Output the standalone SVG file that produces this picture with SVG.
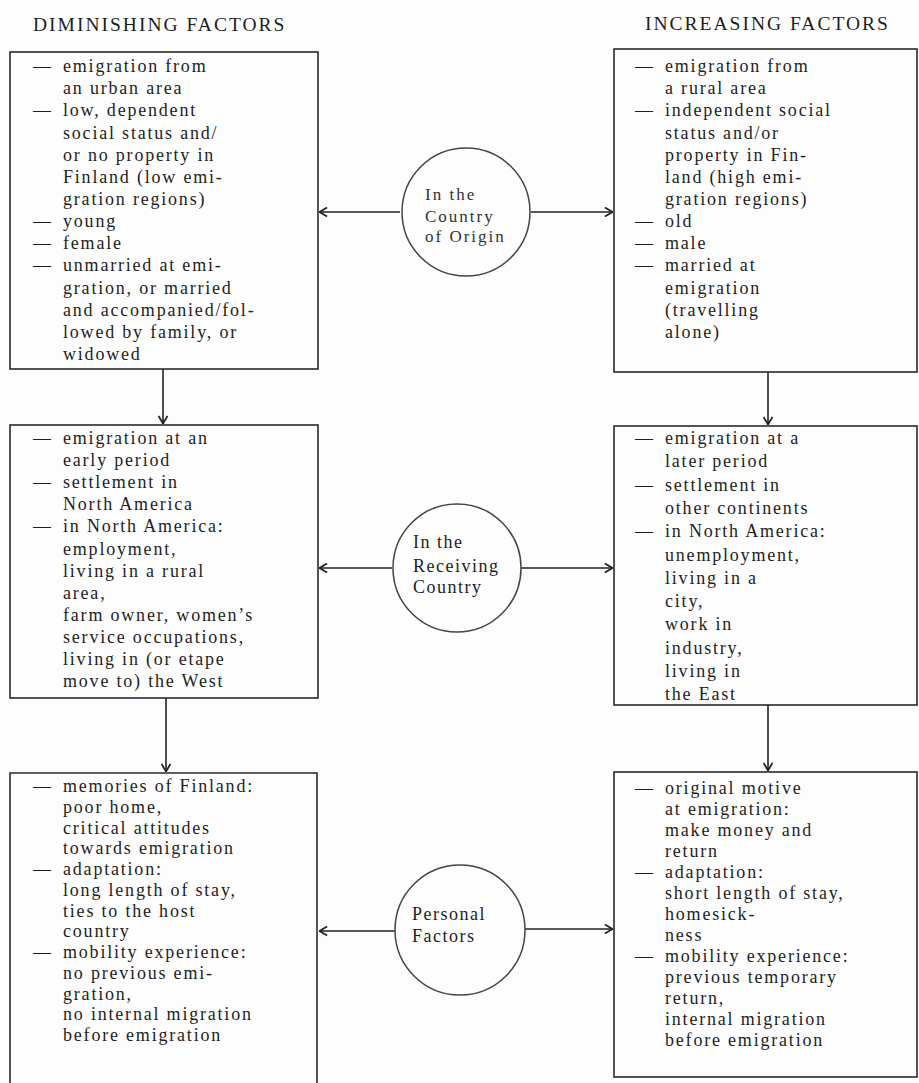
<svg xmlns="http://www.w3.org/2000/svg" width="919" height="1083" viewBox="0 0 919 1083">
<style>
.bg{fill:#fdfdfd}
.box{fill:none;stroke:#2a2a2a;stroke-width:1.6}
.circ{fill:none;stroke:#444;stroke-width:1.5}
.t{font-family:"Liberation Serif","Times New Roman",serif;font-size:18px;letter-spacing:1.8px;fill:#1e1e1e}
.h{font-family:"Liberation Serif","Times New Roman",serif;font-size:19.5px;letter-spacing:2px;fill:#1e1e1e}
.c1{font-family:"Liberation Serif","Times New Roman",serif;font-size:17px;letter-spacing:2px;fill:#333}
.c{font-family:"Liberation Serif","Times New Roman",serif;font-size:18px;letter-spacing:1.5px;fill:#1e1e1e}
.edge{fill:none;stroke:#222;stroke-width:1.6}
</style>
<defs>
<marker id="arr" viewBox="0 0 10 12" refX="10" refY="6" markerWidth="9" markerHeight="11" orient="auto" markerUnits="userSpaceOnUse">
<path d="M1,1 L9.5,6 L1,11" fill="none" stroke="#222" stroke-width="2"/>
</marker>
</defs>
<rect class="bg" x="0" y="0" width="919" height="1083"/>

<g id="headers">
<text class="h" x="33" y="31">DIMINISHING FACTORS</text>
<text class="h" x="645" y="30">INCREASING FACTORS</text>
</g>

<g id="connectors">
<path class="edge" d="M400,212 H319" marker-end="url(#arr)"/>
<path class="edge" d="M531,212 H613" marker-end="url(#arr)"/>
<path class="edge" d="M163,369 V424" marker-end="url(#arr)"/>
<path class="edge" d="M768,372 V425" marker-end="url(#arr)"/>
<path class="edge" d="M392,568 H319" marker-end="url(#arr)"/>
<path class="edge" d="M521,568 H613" marker-end="url(#arr)"/>
<path class="edge" d="M166,698 V772" marker-end="url(#arr)"/>
<path class="edge" d="M768,705 V771" marker-end="url(#arr)"/>
<path class="edge" d="M395,931 H319" marker-end="url(#arr)"/>
<path class="edge" d="M525,929 H613" marker-end="url(#arr)"/>
</g>

<g id="circle-origin">
<circle class="circ" cx="466" cy="212" r="64"/>
<text class="c1" x="425" y="200">In the</text>
<text class="c1" x="425" y="222">Country</text>
<text class="c1" x="425" y="242">of Origin</text>
</g>

<g id="circle-receiving">
<circle class="circ" cx="457" cy="568" r="64"/>
<text class="c" x="413" y="548">In the</text>
<text class="c" x="413" y="572">Receiving</text>
<text class="c" x="413" y="593">Country</text>
</g>

<g id="circle-personal">
<circle class="circ" cx="460" cy="930" r="65"/>
<text class="c" x="412" y="920">Personal</text>
<text class="c" x="412" y="942">Factors</text>
</g>

<g id="box-origin-diminishing">
<rect class="box" x="10" y="52" width="308" height="317"/>
<text class="t">
<tspan x="33" y="72">—</tspan><tspan x="63" y="72">emigration from</tspan>
<tspan x="63" y="94.2">an urban area</tspan>
<tspan x="33" y="116.3">—</tspan><tspan x="63" y="116.3">low, dependent</tspan>
<tspan x="63" y="138.5">social status and/</tspan>
<tspan x="63" y="160.6">or no property in</tspan>
<tspan x="63" y="182.8">Finland (low emi-</tspan>
<tspan x="63" y="204.9">gration regions)</tspan>
<tspan x="33" y="227">—</tspan><tspan x="63" y="227">young</tspan>
<tspan x="33" y="249.2">—</tspan><tspan x="63" y="249.2">female</tspan>
<tspan x="33" y="271.4">—</tspan><tspan x="63" y="271.4">unmarried at emi-</tspan>
<tspan x="63" y="293.5">gration, or married</tspan>
<tspan x="63" y="315.7">and accompanied/fol-</tspan>
<tspan x="63" y="337.8">lowed by family, or</tspan>
<tspan x="63" y="360">widowed</tspan>
</text>
</g>

<g id="box-origin-increasing">
<rect class="box" x="614" y="49" width="303" height="323"/>
<text class="t">
<tspan x="635" y="72">—</tspan><tspan x="665" y="72">emigration from</tspan>
<tspan x="665" y="94.2">a rural area</tspan>
<tspan x="635" y="116.3">—</tspan><tspan x="665" y="116.3">independent social</tspan>
<tspan x="665" y="138.5">status and/or</tspan>
<tspan x="665" y="160.6">property in Fin-</tspan>
<tspan x="665" y="182.8">land (high emi-</tspan>
<tspan x="665" y="204.9">gration regions)</tspan>
<tspan x="635" y="227">—</tspan><tspan x="665" y="227">old</tspan>
<tspan x="635" y="249.2">—</tspan><tspan x="665" y="249.2">male</tspan>
<tspan x="635" y="271.4">—</tspan><tspan x="665" y="271.4">married at</tspan>
<tspan x="665" y="293.5">emigration</tspan>
<tspan x="665" y="315.7">(travelling</tspan>
<tspan x="665" y="337.8">alone)</tspan>
</text>
</g>

<g id="box-receiving-diminishing">
<rect class="box" x="10" y="425" width="308" height="273"/>
<text class="t">
<tspan x="33" y="444">—</tspan><tspan x="63" y="444">emigration at an</tspan>
<tspan x="63" y="466.1">early period</tspan>
<tspan x="33" y="488.2">—</tspan><tspan x="63" y="488.2">settlement in</tspan>
<tspan x="63" y="510.3">North America</tspan>
<tspan x="33" y="532.4">—</tspan><tspan x="63" y="532.4">in North America:</tspan>
<tspan x="63" y="554.5">employment,</tspan>
<tspan x="63" y="576.6">living in a rural</tspan>
<tspan x="63" y="598.7">area,</tspan>
<tspan x="63" y="620.8">farm owner, women’s</tspan>
<tspan x="63" y="642.9">service occupations,</tspan>
<tspan x="63" y="665">living in (or etape</tspan>
<tspan x="63" y="687.1">move to) the West</tspan>
</text>
</g>

<g id="box-receiving-increasing">
<rect class="box" x="614" y="426" width="303" height="279"/>
<text class="t">
<tspan x="635" y="444">—</tspan><tspan x="665" y="444">emigration at a</tspan>
<tspan x="665" y="467.3">later period</tspan>
<tspan x="635" y="490.6">—</tspan><tspan x="665" y="490.6">settlement in</tspan>
<tspan x="665" y="513.9">other continents</tspan>
<tspan x="635" y="537.2">—</tspan><tspan x="665" y="537.2">in North America:</tspan>
<tspan x="665" y="560.5">unemployment,</tspan>
<tspan x="665" y="583.8">living in a</tspan>
<tspan x="665" y="607.1">city,</tspan>
<tspan x="665" y="630.4">work in</tspan>
<tspan x="665" y="653.7">industry,</tspan>
<tspan x="665" y="677">living in</tspan>
<tspan x="665" y="700.3">the East</tspan>
</text>
</g>

<g id="box-personal-diminishing">
<path class="box" d="M10,1083 V773 H317 V1083"/>
<text class="t">
<tspan x="33" y="792">—</tspan><tspan x="63" y="792">memories of Finland:</tspan>
<tspan x="63" y="812.8">poor home,</tspan>
<tspan x="63" y="833.5">critical attitudes</tspan>
<tspan x="63" y="854.3">towards emigration</tspan>
<tspan x="33" y="875">—</tspan><tspan x="63" y="875">adaptation:</tspan>
<tspan x="63" y="895.8">long length of stay,</tspan>
<tspan x="63" y="916.5">ties to the host</tspan>
<tspan x="63" y="937.3">country</tspan>
<tspan x="33" y="958">—</tspan><tspan x="63" y="958">mobility experience:</tspan>
<tspan x="63" y="978.8">no previous emi-</tspan>
<tspan x="63" y="999.5">gration,</tspan>
<tspan x="63" y="1020.3">no internal migration</tspan>
<tspan x="63" y="1041">before emigration</tspan>
</text>
</g>

<g id="box-personal-increasing">
<rect class="box" x="614" y="772" width="303" height="305"/>
<text class="t">
<tspan x="635" y="794">—</tspan><tspan x="665" y="794">original motive</tspan>
<tspan x="665" y="815">at emigration:</tspan>
<tspan x="665" y="836">make money and</tspan>
<tspan x="665" y="857">return</tspan>
<tspan x="635" y="878">—</tspan><tspan x="665" y="878">adaptation:</tspan>
<tspan x="665" y="899">short length of stay,</tspan>
<tspan x="665" y="920">homesick-</tspan>
<tspan x="665" y="941">ness</tspan>
<tspan x="635" y="962">—</tspan><tspan x="665" y="962">mobility experience:</tspan>
<tspan x="665" y="983">previous temporary</tspan>
<tspan x="665" y="1004">return,</tspan>
<tspan x="665" y="1025">internal migration</tspan>
<tspan x="665" y="1046">before emigration</tspan>
</text>
</g>
</svg>
